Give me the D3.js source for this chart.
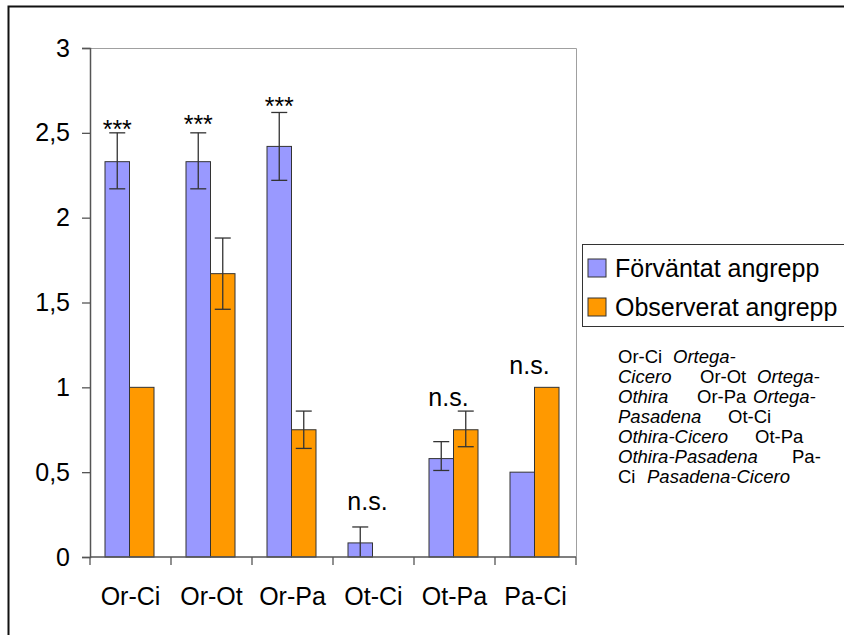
<!DOCTYPE html>
<html lang="sv">
<head>
<meta charset="UTF-8">
<title>Angrepp</title>
<script src="https://d3js.org/d3.v7.min.js"></script>
<style>
  body { margin: 0; background: #fff; }
  svg { display: block; font-family: "Liberation Sans", Arial, sans-serif; }
</style>
</head>
<body>
<svg id="chart" width="844" height="635"></svg>
<script>
  // data
  var categories = ["Or-Ci", "Or-Ot", "Or-Pa", "Ot-Ci", "Ot-Pa", "Pa-Ci"];
  var seriesNames = ["Förväntat angrepp", "Observerat angrepp"];
  var seriesColors = ["#9999ff", "#ff9900"];

  var expected   = [2.33, 2.33, 2.42, 0.083, 0.58, 0.5];
  var expectedLo = [2.17, 2.17, 2.22, 0,     0.51, null];
  var expectedHi = [2.5,  2.5,  2.62, 0.177, 0.68, null];

  var observed   = [1,    1.67, 0.75, 0,    0.75, 1];
  var observedLo = [null, 1.46, 0.64, null, 0.65, null];
  var observedHi = [null, 1.88, 0.86, null, 0.86, null];

  var signif  = ["***", "***", "***", "n.s.", "n.s.", "n.s."];
  var signifY = [2.47, 2.50, 2.605, 0.277, 0.89, 1.08];

  var yTicks = [0, 0.5, 1, 1.5, 2, 2.5, 3];

  // abbreviation note, one entry per line: [text, italic, offset]
  var noteLines = [
    [["Or-Ci", false, 0], ["Ortega-", true, 55]],
    [["Cicero", true, 0], ["Or-Ot", false, 82], ["Ortega-", true, 139]],
    [["Othira", true, 0], ["Or-Pa", false, 79], ["Ortega-", true, 135]],
    [["Pasadena", true, 0], ["Ot-Ci", false, 110]],
    [["Othira-Cicero", true, 0], ["Ot-Pa", false, 137]],
    [["Othira-Pasadena", true, 0], ["Pa-", false, 174]],
    [["Ci", false, 0], ["Pasadena-Cicero", true, 29]]
  ];

  var svg = d3.select("#chart");

  // outer frame (only left and top are visible)
  svg.append("path")
    .attr("d", "M8.5,635V6.5H844")
    .attr("fill", "none")
    .attr("stroke", "#111")
    .attr("stroke-width", 2);

  var plotLeft = 90, plotRight = 576, plotTop = 48, plotBottom = 557;

  var x0 = d3.scaleBand().domain(categories).range([plotLeft, plotRight]);
  var x1 = d3.scaleBand().domain([0, 1]).range([15, 64]);
  var y = d3.scaleLinear().domain([0, 3]).range([plotBottom, plotTop]);

  // plot area border (grey top and right)
  svg.append("path")
    .attr("d", "M" + plotLeft + "," + (plotTop + 0.5) + "H" + (plotRight + 0.5) + "V" + plotBottom)
    .attr("fill", "none")
    .attr("stroke", "#a0a0a0")
    .attr("stroke-width", 1);

  var rows = categories.map(function (c, i) {
    return [
      { cat: c, s: 0, v: expected[i], lo: expectedLo[i], hi: expectedHi[i] },
      { cat: c, s: 1, v: observed[i], lo: observedLo[i], hi: observedHi[i] }
    ];
  });

  var groups = svg.append("g").selectAll("g")
    .data(rows)
    .enter().append("g")
    .attr("transform", function (d, i) { return "translate(" + x0(categories[i]) + ",0)"; });

  groups.selectAll("rect")
    .data(function (d) { return d.filter(function (e) { return e.v > 0; }); })
    .enter().append("rect")
    .attr("x", function (d) { return x1(d.s); })
    .attr("width", x1.bandwidth())
    .attr("y", function (d) { return y(d.v); })
    .attr("height", function (d) { return y(0) - y(d.v); })
    .attr("fill", function (d) { return seriesColors[d.s]; })
    .attr("stroke", "#333")
    .attr("stroke-width", 1);

  // error bars
  var errs = groups.selectAll("g.err")
    .data(function (d) { return d.filter(function (e) { return e.hi != null; }); })
    .enter().append("g")
    .attr("class", "err")
    .attr("stroke", "#333")
    .attr("stroke-width", 1.3);

  var cx = function (d) { return x1(d.s) + x1.bandwidth() / 2; };
  errs.append("line")
    .attr("x1", cx).attr("x2", cx)
    .attr("y1", function (d) { return y(d.lo); })
    .attr("y2", function (d) { return y(d.hi); });
  errs.append("line")
    .attr("x1", function (d) { return cx(d) - 8; })
    .attr("x2", function (d) { return cx(d) + 8; })
    .attr("y1", function (d) { return y(d.hi); })
    .attr("y2", function (d) { return y(d.hi); });
  errs.filter(function (d) { return d.lo > 0; }).append("line")
    .attr("x1", function (d) { return cx(d) - 8; })
    .attr("x2", function (d) { return cx(d) + 8; })
    .attr("y1", function (d) { return y(d.lo); })
    .attr("y2", function (d) { return y(d.lo); });

  // significance labels
  svg.append("g").selectAll("text")
    .data(signif)
    .enter().append("text")
    .attr("x", function (d, i) {
      var c = categories[i];
      if (d === "***") return x0(c) + x1(0) + x1.bandwidth() / 2;
      return x0(c) + x0.bandwidth() / 2 - 6;
    })
    .attr("y", function (d, i) { return y(signifY[i]); })
    .attr("text-anchor", "middle")
    .attr("font-size", 25)
    .attr("fill", "#000")
    .text(function (d) { return d; });

  // y axis
  var yAxis = svg.append("g")
    .attr("transform", "translate(" + plotLeft + ",0)")
    .call(d3.axisLeft(y).tickValues(yTicks).tickSize(8).tickPadding(12)
      .tickFormat(function (d) { return String(d).replace(".", ","); }));
  yAxis.select(".domain").attr("stroke", "#555").attr("stroke-width", 1.5);
  yAxis.selectAll(".tick line").attr("stroke", "#555").attr("stroke-width", 1.3);
  yAxis.selectAll("text").attr("font-size", 25).attr("fill", "#000")
    .attr("font-family", "Liberation Sans, Arial, sans-serif");

  // x axis with ticks at the category boundaries
  var xAxis = svg.append("g")
    .attr("transform", "translate(0," + plotBottom + ")");
  xAxis.append("line")
    .attr("x1", plotLeft).attr("x2", plotRight)
    .attr("stroke", "#555").attr("stroke-width", 1.5);
  xAxis.selectAll("line.tk")
    .data(categories.concat(["end"]))
    .enter().append("line")
    .attr("class", "tk")
    .attr("x1", function (d, i) { return i < categories.length ? x0(d) : plotRight; })
    .attr("x2", function (d, i) { return i < categories.length ? x0(d) : plotRight; })
    .attr("y1", 0).attr("y2", 8)
    .attr("stroke", "#555").attr("stroke-width", 1.3);
  xAxis.selectAll("text")
    .data(categories)
    .enter().append("text")
    .attr("x", function (d) { return x0(d) + x0.bandwidth() / 2; })
    .attr("y", 48)
    .attr("text-anchor", "middle")
    .attr("font-size", 25)
    .text(function (d) { return d; });

  // legend
  var legend = svg.append("g");
  legend.append("rect")
    .attr("x", 582.5).attr("y", 244.5)
    .attr("width", 300).attr("height", 82)
    .attr("fill", "#fff")
    .attr("stroke", "#333").attr("stroke-width", 1);
  var li = legend.selectAll("g")
    .data(seriesNames)
    .enter().append("g")
    .attr("transform", function (d, i) { return "translate(588," + (259 + i * 39) + ")"; });
  li.append("rect")
    .attr("width", 18).attr("height", 18)
    .attr("fill", function (d, i) { return seriesColors[i]; })
    .attr("stroke", "#333").attr("stroke-width", 1);
  li.append("text")
    .attr("x", 27).attr("y", 18)
    .attr("font-size", 25)
    .text(function (d) { return d; });

  // abbreviation note
  var note = svg.append("g").attr("transform", "translate(618,363)");
  noteLines.forEach(function (line, n) {
    var t = note.append("text")
      .attr("y", n * 20)
      .attr("font-size", 18.5);
    line.forEach(function (seg) {
      t.append("tspan")
        .attr("x", seg[2])
        .attr("font-style", seg[1] ? "italic" : "normal")
        .text(seg[0]);
    });
  });
</script>
</body>
</html>
